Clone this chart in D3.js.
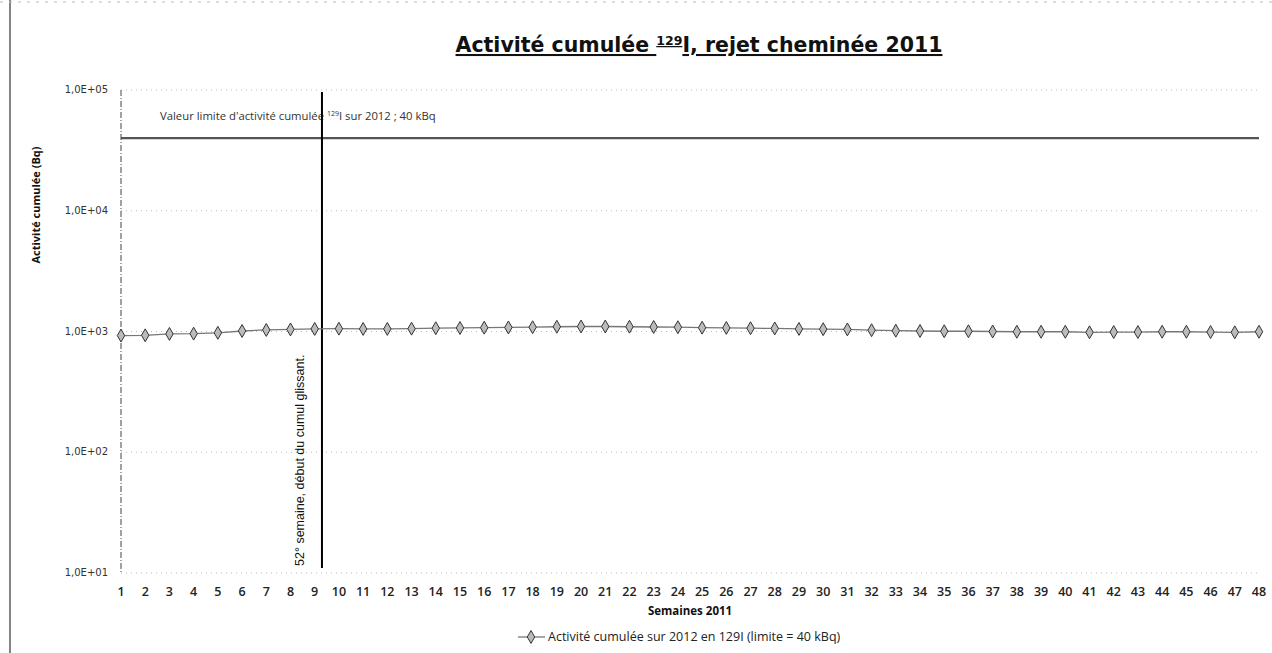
<!DOCTYPE html>
<html>
<head>
<meta charset="utf-8">
<script src="https://d3js.org/d3.v7.min.js"></script>
<style>
  body { margin: 0; background: #fff; }
  text { font-family: "Open Sans", sans-serif; fill: #111; }
</style>
</head>
<body>
<div id="chart"></div>
<script>
var w = 1272;
var h = 653;

// semaines 2011 (abscisses)
var weeks = d3.range(1, 49);
// activité cumulée (Bq)
var activity = [925, 930, 955, 960, 975, 1010, 1030, 1040, 1050, 1055,
                1050, 1050, 1055, 1065, 1070, 1075, 1080, 1085, 1095, 1100,
                1100, 1095, 1090, 1085, 1075, 1070, 1065, 1060, 1050, 1045,
                1040, 1025, 1015, 1010, 1005, 1005, 1000, 995, 995, 995,
                985, 990, 990, 995, 995, 990, 985, 995];
var yTicks = [10, 100, 1000, 10000, 100000];
var yTickLabels = ["1,0E+01", "1,0E+02", "1,0E+03", "1,0E+04", "1,0E+05"];
var limitValue = 40000;
var markerWeek = 9.3; // début du cumul glissant

var svg = d3.select("#chart")
    .append("svg")
    .attr("width", w)
    .attr("height", h);

var xScale = d3.scaleLinear()
    .domain([1, 48])
    .range([121, 1259]);

var yScale = d3.scaleLog()
    .domain([10, 100000])
    .range([573, 90]);

// bord de page scanné
svg.append("line")
    .attr("x1", 10).attr("y1", 0).attr("x2", 10).attr("y2", h)
    .attr("stroke", "#333").attr("stroke-width", 1.2);
svg.append("line")
    .attr("x1", 0).attr("y1", 2).attr("x2", w).attr("y2", 2)
    .attr("stroke", "#bbb").attr("stroke-width", 1)
    .attr("stroke-dasharray", "3,6");

// grille
svg.selectAll(".grid")
    .data(yTicks)
    .enter()
    .append("line")
    .attr("class", "grid")
    .attr("x1", xScale(1))
    .attr("x2", xScale(48))
    .attr("y1", function(d) { return yScale(d); })
    .attr("y2", function(d) { return yScale(d); })
    .attr("stroke", "#aaa")
    .attr("stroke-width", 0.8)
    .attr("stroke-dasharray", "1,4");

// axe vertical
svg.append("line")
    .attr("x1", xScale(1)).attr("x2", xScale(1))
    .attr("y1", yScale(100000)).attr("y2", yScale(10))
    .attr("stroke", "#444")
    .attr("stroke-width", 1)
    .attr("stroke-dasharray", "6,2,1,2");

svg.selectAll(".ylab")
    .data(yTicks)
    .enter()
    .append("text")
    .attr("class", "ylab")
    .attr("x", 108)
    .attr("y", function(d) { return yScale(d) + 3; })
    .attr("text-anchor", "end")
    .style("font-family", "DejaVu Sans, sans-serif")
    .style("font-size", "10px")
    .style("fill", "#333")
    .text(function(d, i) { return yTickLabels[i]; });

svg.append("text")
    .attr("transform", "translate(40,205) rotate(-90)")
    .attr("text-anchor", "middle")
    .style("font-size", "11px")
    .style("font-weight", "bold")
    .text("Activité cumulée (Bq)");

// limite
svg.append("line")
    .attr("x1", xScale(1)).attr("x2", xScale(48))
    .attr("y1", yScale(limitValue)).attr("y2", yScale(limitValue))
    .attr("stroke", "#555")
    .attr("stroke-width", 2.2);

var lim = svg.append("text")
    .attr("x", 160)
    .attr("y", 120)
    .style("font-size", "11.3px")
    .style("fill", "#333");
lim.append("tspan").text("Valeur limite d'activité cumulée ");
lim.append("tspan").attr("dy", -4).style("font-size", "7px").text("129");
lim.append("tspan").attr("dy", 4).text("I sur 2012 ; 40 kBq");

// ligne verticale (52e semaine)
svg.append("line")
    .attr("x1", xScale(markerWeek)).attr("x2", xScale(markerWeek))
    .attr("y1", 92).attr("y2", 568)
    .attr("stroke", "#000")
    .attr("stroke-width", 2);

svg.append("text")
    .attr("transform", "translate(" + (xScale(markerWeek) - 18) + ",566) rotate(-90)")
    .style("font-size", "12.5px")
    .style("font-family", "Liberation Sans Narrow, Liberation Sans, sans-serif")
    .text("52° semaine, début du cumul glissant.");

// série
var line = d3.line()
    .x(function(d, i) { return xScale(weeks[i]); })
    .y(function(d) { return yScale(d); });

svg.append("path")
    .datum(activity)
    .attr("d", line)
    .attr("fill", "none")
    .attr("stroke", "#777")
    .attr("stroke-width", 1.3);

var diamond = d3.symbol().type(d3.symbolDiamond).size(48);

svg.selectAll(".pt")
    .data(activity)
    .enter()
    .append("path")
    .attr("class", "pt")
    .attr("d", diamond)
    .attr("transform", function(d, i) {
        return "translate(" + xScale(weeks[i]) + "," + yScale(d) + ")";
    })
    .attr("fill", "#bbb")
    .attr("stroke", "#333")
    .attr("stroke-width", 1);

// axe X
svg.selectAll(".xlab")
    .data(weeks)
    .enter()
    .append("text")
    .attr("class", "xlab")
    .attr("x", function(d) { return xScale(d); })
    .attr("y", 596)
    .attr("text-anchor", "middle")
    .style("font-size", "12.5px")
    .style("font-weight", "600")
    .style("fill", "#222")
    .text(function(d) { return d; });

svg.append("text")
    .attr("x", 690)
    .attr("y", 615)
    .attr("text-anchor", "middle")
    .style("font-size", "11.5px")
    .style("font-weight", "bold")
    .text("Semaines 2011");

// titre
var title = svg.append("text")
    .attr("x", 699)
    .attr("y", 52)
    .attr("text-anchor", "middle")
    .style("font-family", "DejaVu Sans, sans-serif")
    .style("font-size", "20.5px")
    .style("font-weight", "bold")
    .style("text-decoration", "underline");
title.append("tspan").text("Activité cumulée ");
title.append("tspan").attr("dy", -7).style("font-size", "12.5px").text("129");
title.append("tspan").attr("dy", 7).text("I, rejet cheminée 2011");

// légende
svg.append("line")
    .attr("x1", 518).attr("x2", 545)
    .attr("y1", 637).attr("y2", 637)
    .attr("stroke", "#777").attr("stroke-width", 1.3);
svg.append("path")
    .attr("d", diamond)
    .attr("transform", "translate(531,637)")
    .attr("fill", "#bbb")
    .attr("stroke", "#333");
svg.append("text")
    .attr("x", 548)
    .attr("y", 641)
    .style("font-size", "12.5px")
    .style("fill", "#222")
    .text("Activité cumulée sur 2012 en 129I (limite = 40 kBq)");
</script>
</body>
</html>
